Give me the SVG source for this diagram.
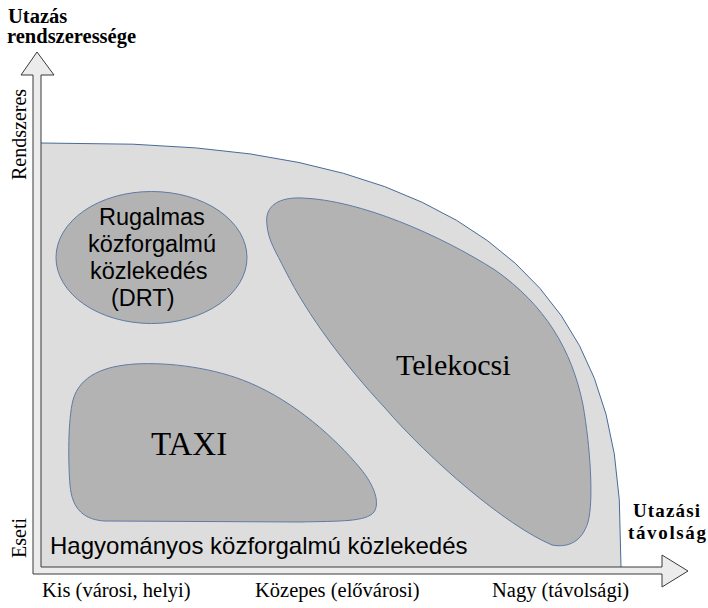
<svg xmlns="http://www.w3.org/2000/svg" width="708" height="608" viewBox="0 0 708 608">
<style>
.serif{font-family:"Liberation Serif","Times New Roman",serif;fill:#000}
.sans{font-family:"Liberation Sans",Arial,sans-serif;fill:#000}
.bold{font-weight:bold}
.blob{fill:#b3b3b3;stroke:#5f7ba3;stroke-width:1}
</style>
<rect x="0" y="0" width="708" height="608" fill="#ffffff"/>
<g id="region">
<path d="M41,567 L41,143 L132.9,144.2 L195.7,147.9 L250,153.9 L299,162.5 L343.7,173.4 L384.7,186.6 L422.2,202.3 L456.5,220.3 L487.4,240.6 L515.3,263.3 L539.9,288.3 L561.3,315.7 L579.5,345.7 L594.4,378.4 L606,414.2 L614.3,453.9 L619.3,499.8 L621,567 Z" fill="#dddddd" stroke="none"/>
<path d="M41,143 L132.9,144.2 L195.7,147.9 L250,153.9 L299,162.5 L343.7,173.4 L384.7,186.6 L422.2,202.3 L456.5,220.3 L487.4,240.6 L515.3,263.3 L539.9,288.3 L561.3,315.7 L579.5,345.7 L594.4,378.4 L606,414.2 L614.3,453.9 L619.3,499.8 L621,567" fill="none" stroke="#4a6a99" stroke-width="1"/>
<text class="sans" x="50" y="554" font-size="24">Hagyományos közforgalmú közlekedés</text>
</g>
<g id="drt">
<ellipse cx="151.5" cy="257.5" rx="95.5" ry="66" class="blob"/>
<text class="sans" font-size="23.5"><tspan x="99" y="225">Rugalmas</tspan><tspan x="88" y="252">közforgalmú</tspan><tspan x="90" y="279">közlekedés</tspan><tspan x="111" y="306">(DRT)</tspan></text>
</g>
<g id="telekocsi">
<path class="blob" d="M267,225 C264,205 280,197 302,198 C360,200 440,235 495,270 C545,305 572,350 583,405 C590,445 594,500 588,522 C582,542 568,548 552,545 C505,525 430,460 385,408 C345,365 308,316 285,270 C276,252 268,240 267,225 Z"/>
<text class="serif" x="396" y="375" font-size="30">Telekocsi</text>
</g>
<g id="taxi">
<path class="blob" d="M73,400 C80,375 105,366 135,364 C170,362 215,368 250,383 C295,402 335,438 360,468 C375,486 380,503 374,512 C366,522 340,521 300,522 L105,521 C85,520 72,510 70,485 C68,460 68,420 73,400 Z"/>
<text class="serif" x="151" y="455" font-size="33">TAXI</text>
</g>
<g id="axes">
<path d="M33,574 L33,75 L21,75 L37,52 L54,75 L41,75 L41,567 L662,567 L662,555 L688,571 L662,587 L662,574 Z" fill="#ececec" stroke="#3a3a3a" stroke-width="1"/>
</g>
<g id="labels">
<text class="serif bold" x="8" y="23" font-size="20.5">Utazás</text>
<text class="serif bold" x="7" y="43" font-size="20.5">rendszeressége</text>
<text class="serif" font-size="20" transform="translate(26,180) rotate(-90)">Rendszeres</text>
<text class="serif" font-size="20" transform="translate(26,558) rotate(-90)">Eseti</text>
<text class="serif" x="42" y="597" font-size="20.5">Kis (városi, helyi)</text>
<text class="serif" x="255" y="597" font-size="20.5">Közepes (elővárosi)</text>
<text class="serif" x="492" y="597" font-size="20.5">Nagy (távolsági)</text>
<text class="serif bold" x="633" y="517" font-size="19" textLength="67">Utazási</text>
<text class="serif bold" x="628" y="539" font-size="19" textLength="78">távolság</text>
</g>
</svg>
